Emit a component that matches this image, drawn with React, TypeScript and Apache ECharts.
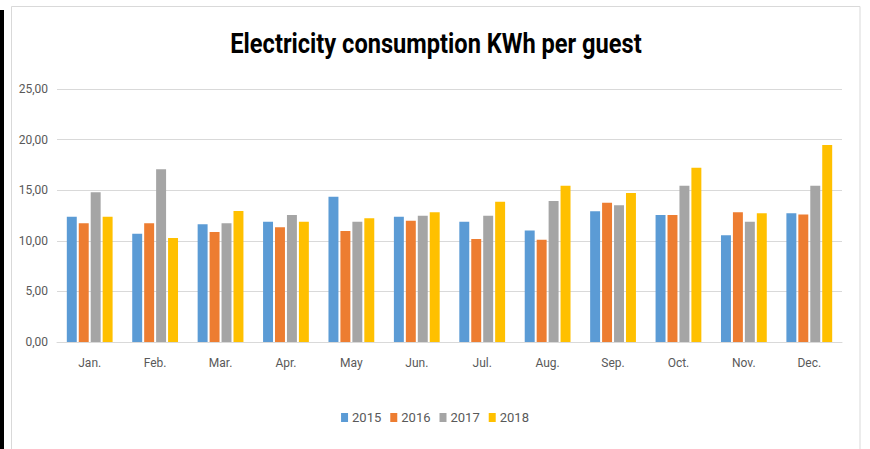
import React, { useEffect, useRef } from "react";
import * as echarts from "echarts";

const months = ["Jan.", "Feb.", "Mar.", "Apr.", "May", "Jun.", "Jul.", "Aug.", "Sep.", "Oct.", "Nov.", "Dec."];
const years = ["2015", "2016", "2017", "2018"];
const v2015 = [12.38, 10.7, 11.63, 11.89, 14.36, 12.38, 11.89, 11.03, 12.91, 12.55, 10.54, 12.71];
const v2016 = [11.73, 11.73, 10.87, 11.33, 10.97, 11.99, 10.18, 10.11, 13.77, 12.55, 12.81, 12.61];
const v2017 = [14.79, 17.06, 11.73, 12.55, 11.89, 12.48, 12.48, 13.93, 13.51, 15.45, 11.89, 15.45];
const v2018 = [12.38, 10.28, 12.94, 11.89, 12.22, 12.81, 13.86, 15.45, 14.72, 17.23, 12.71, 19.46];
const seriesData = [v2015, v2016, v2017, v2018];
const colors = ["#5B9BD5", "#ED7D31", "#A5A5A5", "#FFC000"];
const titleText = "Electricity consumption KWh per guest";

const FONT = "Roboto, 'Open Sans', sans-serif";

export default function App() {
  const ref = useRef<HTMLDivElement>(null);
  useEffect(() => {
    if (!ref.current) return;
    const chart = echarts.init(ref.current, null, { renderer: "svg" });
    chart.setOption({
      animation: false,
      backgroundColor: "#ffffff",
      color: colors,
      graphic: [
        {
          type: "rect",
          shape: { x: 11.5, y: 6.5, width: 848.5, height: 450 },
          style: { fill: "none", stroke: "#D9D9D9", lineWidth: 1 },
          silent: true,
        },
        {
          type: "rect",
          shape: { x: 0, y: 10, width: 4, height: 440 },
          style: { fill: "#000000" },
          silent: true,
        },
        {
          type: "text",
          x: 436,
          y: 43,
          scaleX: 0.875,
          silent: true,
          style: {
            x: 0,
            y: 0,
            text: titleText,
            textAlign: "center",
            textVerticalAlign: "middle",
            fontFamily: FONT,
            fontSize: 27,
            fontWeight: "bold",
            fill: "#000000",
          },
        },
      ],
      legend: {
        data: years,
        bottom: 20,
        left: "center",
        itemWidth: 7,
        itemHeight: 9,
        itemGap: 9,
        icon: "rect",
        textStyle: { fontFamily: FONT, fontSize: 13, color: "#595959", padding: [0, 0, 0, -1] },
      },
      grid: { left: 57, right: 28, top: 89, bottom: 107 },
      xAxis: {
        type: "category",
        data: months,
        axisLine: { lineStyle: { color: "#D9D9D9" } },
        axisTick: { show: false },
        axisLabel: { fontFamily: FONT, fontSize: 12, color: "#595959", margin: 15 },
      },
      yAxis: {
        type: "value",
        min: 0,
        max: 25,
        interval: 5,
        axisLine: { show: false },
        axisTick: { show: false },
        splitLine: { lineStyle: { color: "#D9D9D9" } },
        axisLabel: {
          fontFamily: FONT,
          fontSize: 12,
          color: "#595959",
          margin: 9,
          formatter: (v: number) => v.toFixed(2).replace(".", ","),
        },
      },
      series: years.map((y, i) => ({
        name: y,
        type: "bar",
        data: seriesData[i],
        barGap: "20%",
        barCategoryGap: "30%",
        itemStyle: { color: colors[i] },
      })),
    });
    return () => chart.dispose();
  }, []);
  return <div ref={ref} style={{ position: "fixed", left: 0, top: 0, width: 870, height: 449 }} />;
}
